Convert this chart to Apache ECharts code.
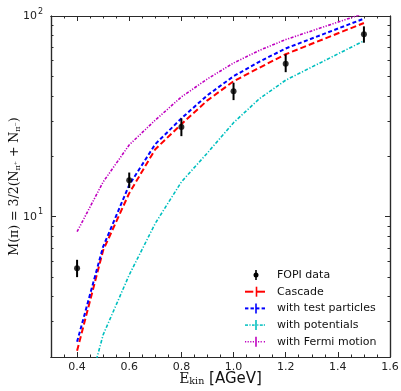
<!DOCTYPE html>
<html><head><meta charset="utf-8">
<script src="https://cdn.jsdelivr.net/npm/echarts@6/dist/echarts.min.js"></script>
<style>html,body{margin:0;padding:0;background:#fff}#c{width:401px;height:391px}</style>
</head><body><div id="c"></div>
<script>
// ---- data ----
const energies = [0.4, 0.5, 0.6, 0.7, 0.8, 0.9, 1.0, 1.1, 1.2, 1.5];
const cascade = [2.15, 6.8, 13.1, 21.7, 28.9, 38.0, 47.3, 55.3, 64.5, 92.3];
const testParticles = [2.38, 7.1, 14.4, 23.0, 30.9, 40.3, 50.1, 59.3, 68.9, 97.0];
const potentials = [0.85, 2.58, 5.13, 9.27, 14.9, 20.8, 29.4, 38.8, 47.9, 75.2];
const fermiMotion = [8.42, 14.9, 22.8, 30.3, 39.5, 48.6, 58.3, 67.5, 76.3, 103];
const fopiE = [0.4, 0.6, 0.8, 1.0, 1.2, 1.5];
const fopiM = [5.53, 15.2, 28.0, 42.2, 57.9, 81.1];
const fopiLow = [5.0, 13.9, 25.2, 38.1, 52.5, 73.6];
const fopiHigh = [6.1, 16.6, 30.9, 46.5, 64.4, 88.8];
const xMajorTicks = [0.4, 0.6, 0.8, 1.0, 1.2, 1.4, 1.6];
const xMinorTicks = [0.35, 0.45, 0.5, 0.55, 0.65, 0.7, 0.75, 0.85, 0.9, 0.95, 1.05, 1.1, 1.15, 1.25, 1.3, 1.35, 1.45, 1.5, 1.55];
const yMajorTicks = [10, 100];
const yMinorTicks = [3, 4, 5, 6, 7, 8, 9, 20, 30, 40, 50, 60, 70, 80, 90];
const seriesNames = ['FOPI data', 'Cascade', 'with test particles', 'with potentials', 'with Fermi motion'];
const seriesColors = ['#000000', '#ff0000', '#0000ff', '#00bfbf', '#bf00bf'];

const pair = (xs, ys) => xs.map((x, i) => [x, ys[i]]);

const AX = '#2a2a2a';
function xAx(pos, ticks, len, labels) {
  return {
    type: 'value', position: pos, min: 0.3, max: 1.6,
    axisLine: {show: true, onZero: false, lineStyle: {color: AX, width: 1.2}},
    axisTick: {show: true, inside: true, length: len, customValues: ticks, lineStyle: {color: AX, width: 1}},
    axisLabel: labels ? {show: true, customValues: ticks, formatter: v => v.toFixed(1), margin: 5,
      fontFamily: 'DejaVu Sans', fontSize: 11, color: '#222'} : {show: false},
    splitLine: {show: false}
  };
}
function yAx(pos, ticks, len, labels) {
  return {
    type: 'log', logBase: 10, position: pos, min: 2, max: 100,
    axisLine: {show: true, onZero: false, lineStyle: {color: AX, width: 1.2}},
    axisTick: {show: true, inside: true, length: len, customValues: ticks, lineStyle: {color: AX, width: 1}},
    axisLabel: labels ? {show: true, customValues: ticks, margin: 8,
      formatter: v => '{a|10}{s|' + Math.round(Math.log10(v)) + '}',
      rich: {a: {fontFamily: 'DejaVu Sans', fontSize: 11, color: '#222'},
             s: {fontFamily: 'DejaVu Sans', fontSize: 8, color: '#222', padding: [0, 0, 9, 1]}}} : {show: false},
    splitLine: {show: false}
  };
}

const xAxes = [xAx('bottom', xMajorTicks, 5, true), xAx('bottom', xMinorTicks, 2.5, false),
               xAx('top', xMajorTicks, 5, false), xAx('top', xMinorTicks, 2.5, false)];
xAxes[0].name = '{e|E}{k|kin}{t| [AGeV]}';
xAxes[0].nameLocation = 'middle';
xAxes[0].nameGap = 14;
xAxes[0].nameMoveOverlap = false;
xAxes[0].nameTextStyle = {rich: {
  e: {fontFamily: 'DejaVu Serif', fontSize: 14, color: '#111'},
  k: {fontFamily: 'DejaVu Serif', fontSize: 9.5, color: '#111', padding: [6, 0, 0, 0]},
  t: {fontFamily: 'DejaVu Sans', fontSize: 15, color: '#111'}}};

const yAxes = [yAx('left', yMajorTicks, 5, true), yAx('left', yMinorTicks, 2.5, false),
               yAx('right', yMajorTicks, 5, false), yAx('right', yMinorTicks, 2.5, false)];
yAxes[0].name = '{m|M(π) = 3/2(N}{b|π⁺}{m| + N}{b|π⁻}{m|)}';
yAxes[0].nameLocation = 'middle';
yAxes[0].nameRotate = 90;
yAxes[0].nameGap = 29;
yAxes[0].nameMoveOverlap = false;
yAxes[0].nameTextStyle = {rich: {
  m: {fontFamily: 'DejaVu Serif', fontSize: 12.5, color: '#111'},
  b: {fontFamily: 'DejaVu Serif', fontSize: 8, color: '#111', padding: [6, 0, 0, 0]}}};

// legend icon pieces: [x, y, w, h] rectangles in a 20x10 box
const BAR = [10.2, 0, 1.6, 10];
const iconRects = [
  [BAR],
  [[0, 4, 8.3, 2], [10.7, 0, 1.6, 10], [11.5, 4, 8.5, 2]],
  [[0, 4, 3.4, 2], [5.5, 4, 3.4, 2], BAR, [11, 4, 3.4, 2], [16.6, 4, 3.4, 2]],
  [[0, 4.25, 3, 1.5], [4.4, 4.25, 1.2, 1.5], [7, 4.25, 2.6, 1.5], BAR, [12.2, 4.25, 1.2, 1.5], [14.8, 4.25, 3, 1.5], [18.8, 4.25, 1.2, 1.5]],
  [[0, 4.25, 1.2, 1.5], [2.6, 4.25, 1.2, 1.5], [5.2, 4.25, 1.2, 1.5], [7.8, 4.25, 1.2, 1.5], BAR, [13, 4.25, 1.2, 1.5], [15.6, 4.25, 1.2, 1.5], [18.8, 4.25, 1.2, 1.5]]
];

const legendGraphics = [];
seriesNames.forEach((n, i) => {
  const cy = 275 + i * 16.7;
  const children = iconRects[i].map(r => ({type: 'rect', shape: {x: r[0], y: r[1], width: r[2], height: r[3]},
    style: {fill: seriesColors[i]}}));
  if (i === 0) children.push({type: 'circle', shape: {cx: 11, cy: 5, r: 2.5}, style: {fill: '#000'}});
  legendGraphics.push({type: 'group', x: 245, y: cy - 5, silent: true, children});
  legendGraphics.push({type: 'text', x: 277, y: cy, silent: true,
    style: {text: n, fill: '#111', font: '11px "DejaVu Sans"', verticalAlign: 'middle', align: 'left'}});
});

function lineSeries(name, data, color, width, dash) {
  return {
    name, type: 'line', data: pair(energies, data), symbol: 'none', smooth: false,
    xAxisIndex: 0, yAxisIndex: 0, clip: true,
    itemStyle: {color},
    lineStyle: {color, width, type: dash, cap: 'butt'}
  };
}

const option = {
  animation: false,
  backgroundColor: '#fff',
  grid: {left: 51, right: 11, top: 16, bottom: 34, containLabel: false, outerBoundsMode: 'none'},
  xAxis: xAxes,
  yAxis: yAxes,
  graphic: legendGraphics,
  series: [
    lineSeries('Cascade', cascade, '#ff0000', 2, [6, 3]),
    lineSeries('with test particles', testParticles, '#0000ff', 2, [4, 2.5]),
    lineSeries('with potentials', potentials, '#00bfbf', 1.6, [3.5, 1.8, 1.2, 1.8]),
    lineSeries('with Fermi motion', fermiMotion, '#bf00bf', 1.6, [3, 1.5, 1.2, 1.5, 1.2, 1.5]),
    {
      type: 'custom', name: 'FOPI errors', xAxisIndex: 0, yAxisIndex: 0, z: 5,
      data: fopiE.map((x, i) => [x, fopiLow[i], fopiHigh[i]]),
      renderItem: (params, api) => {
        const p1 = api.coord([api.value(0), api.value(1)]);
        const p2 = api.coord([api.value(0), api.value(2)]);
        return {type: 'line', shape: {x1: p1[0], y1: p1[1], x2: p2[0], y2: p2[1]},
          style: {stroke: '#000', lineWidth: 2}};
      }
    },
    {
      name: 'FOPI data', type: 'scatter', data: pair(fopiE, fopiM), xAxisIndex: 0, yAxisIndex: 0,
      symbol: 'circle', symbolSize: 6, z: 6,
      itemStyle: {color: '#000'}
    }
  ]
};
const chart = echarts.init(document.getElementById('c'), null, {renderer: 'canvas'});
chart.setOption(option);
</script></body></html>
